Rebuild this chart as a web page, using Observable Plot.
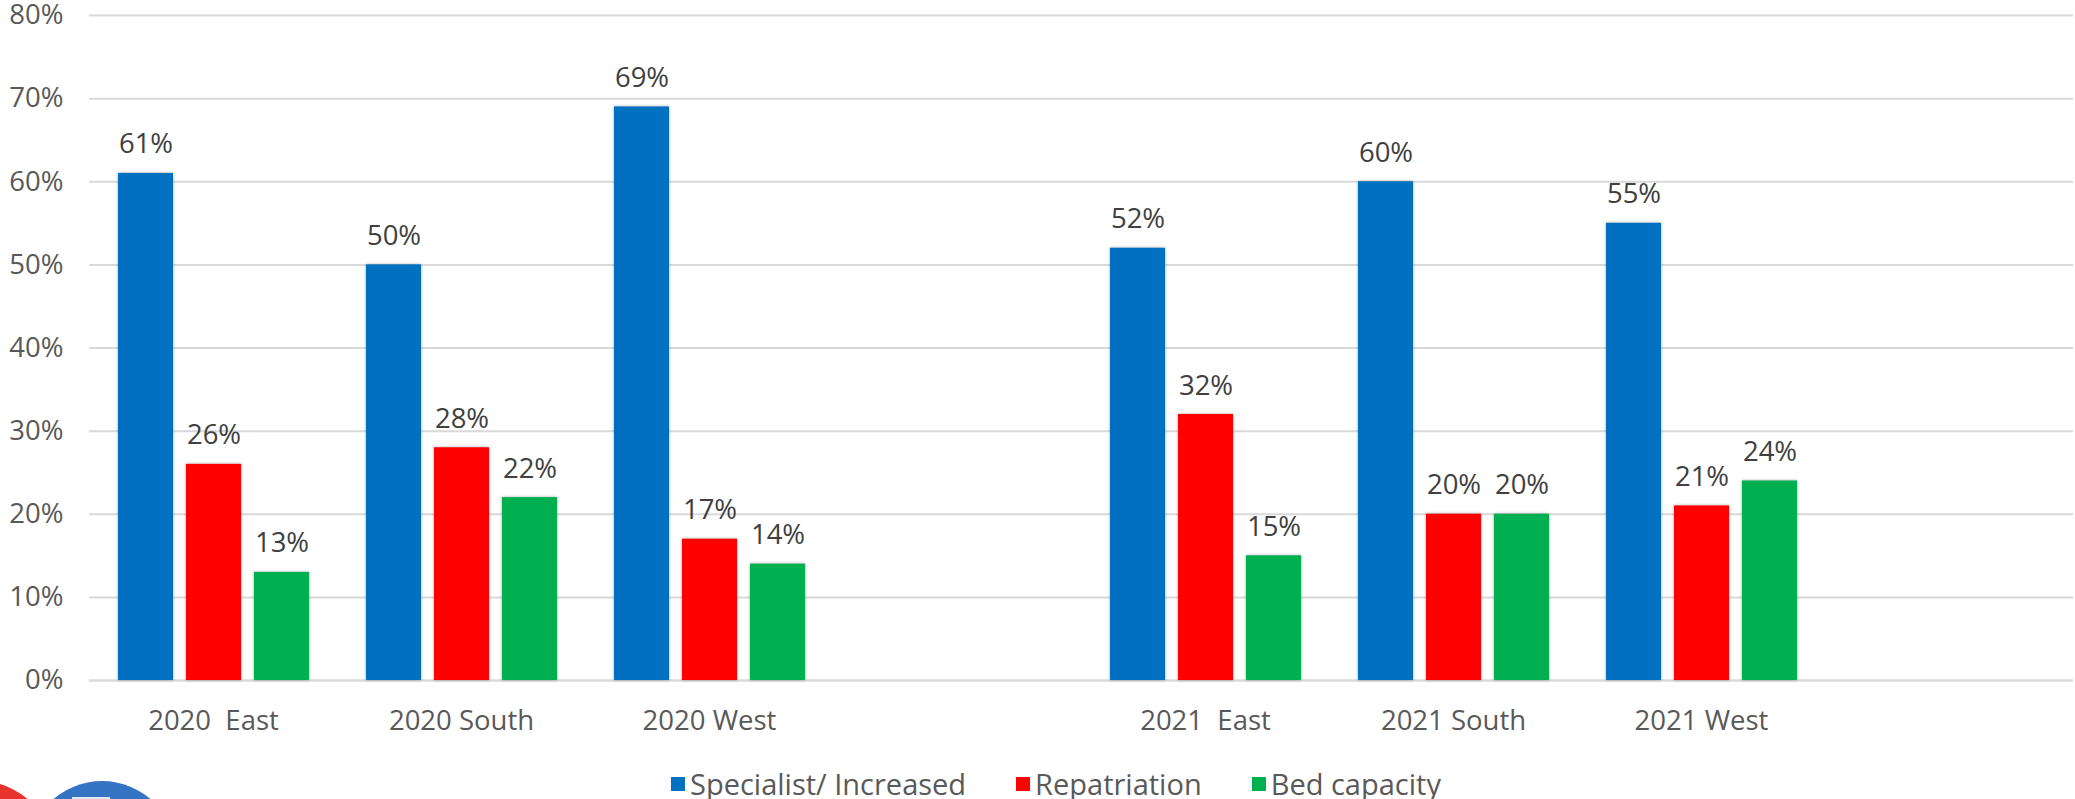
<!DOCTYPE html>
<html>
<head>
<meta charset="utf-8">
<script src="https://cdn.jsdelivr.net/npm/d3@7"></script>
<script src="https://cdn.jsdelivr.net/npm/@observablehq/plot@0.6"></script>
<style>
  html, body { margin: 0; padding: 0; background: #fff; }
  body { width: 2075px; height: 799px; position: relative; overflow: hidden; font-family: "Open Sans", sans-serif; }
  #chart svg text { white-space: pre; }
  #chart g[aria-label="bar"] rect { filter: drop-shadow(0px 0px 1.5px rgba(0,0,0,0.35)); }
  #legend { position: absolute; left: 0; top: 763px; height: 40px; width: 2075px;
            display: flex; align-items: center; padding-left: 671px; box-sizing: border-box;
            font-size: 29px; color: #595959; }
  #legend .item { display: flex; align-items: center; margin-right: 50px; }
  #legend .sw { width: 14px; height: 14px; margin-right: 5px; margin-top: 2px; }
  #logo { position: absolute; left: 0; top: 760px; }
</style>
</head>
<body>
<div id="chart"></div>
<div id="legend"></div>
<svg id="logo" width="200" height="39">
  <circle cx="-25" cy="102" r="82" fill="#e8322e"></circle>
  <circle cx="102" cy="95" r="74" fill="#3574c2"></circle>
  <rect x="72" y="37" width="38" height="4" fill="#dfe8f3"></rect>
</svg>
<script>
// Region groups along the x axis; the two blank entries are spacer slots
const categories = ["2020  East", "2020 South", "2020 West", " ", "2021  East", "2021 South", "2021 West", "  "];
const series = ["Specialist/ Increased", "Repatriation", "Bed capacity"];
const colors = ["#0070c0", "#ff0000", "#00b050"];

// Percentages per category (null for spacer slots)
const specialist   = [61, 50, 69, null, 52, 60, 55, null];
const repatriation = [26, 28, 17, null, 32, 20, 21, null];
const bedCapacity  = [13, 22, 14, null, 15, 20, 24, null];

const yTicks = [0, 10, 20, 30, 40, 50, 60, 70, 80];

const seriesValues = [specialist, repatriation, bedCapacity];
const data = [];
categories.forEach((c, i) => {
  series.forEach((s, j) => {
    const v = seriesValues[j][i];
    if (v != null) data.push({category: c, series: s, value: v});
  });
});

const chart = Plot.plot({
  width: 2075,
  height: 762,
  marginLeft: 86,
  marginRight: 0,
  marginTop: 15,
  marginBottom: 82,
  style: {fontFamily: "Open Sans", fontSize: "27.5px", color: "#595959", background: "#fff"},
  fx: {domain: categories, padding: 0, paddingInner: 0, paddingOuter: 0, label: null, tickSize: 0, tickPadding: 30},
  x: {domain: series, paddingInner: 0.194, paddingOuter: 0.4035, axis: null},
  y: {domain: [0, 80], ticks: yTicks, tickFormat: d => d + "%", tickSize: 0, tickPadding: 26, label: null},
  color: {domain: series, range: colors},
  marks: [
    Plot.ruleY(yTicks, {stroke: "#d9d9d9", strokeWidth: 2}),
    // one baseline per slot keeps every category slot present
    Plot.ruleY(categories, {fx: d => d, y: () => 0, stroke: "#d9d9d9", strokeWidth: 2}),
    Plot.barY(data, {fx: "category", x: "series", y: "value", fill: "series"}),
    Plot.text(data, {fx: "category", x: "series", y: "value", text: d => d.value + "%",
                     dy: -20, lineAnchor: "bottom", fill: "#404040", fontSize: 27.5})
  ]
});
document.getElementById("chart").appendChild(chart);

const legend = document.getElementById("legend");
series.forEach((s, i) => {
  const item = document.createElement("div");
  item.className = "item";
  const sw = document.createElement("div");
  sw.className = "sw";
  sw.style.background = colors[i];
  const label = document.createElement("span");
  label.textContent = s;
  item.appendChild(sw);
  item.appendChild(label);
  legend.appendChild(item);
});
</script>
</body>
</html>
